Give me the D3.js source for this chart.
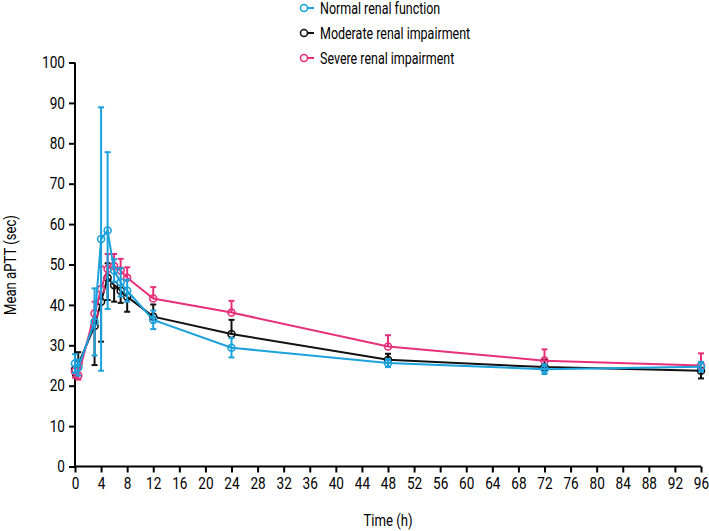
<!DOCTYPE html>
<html><head><meta charset="utf-8">
<script src="https://cdn.jsdelivr.net/npm/d3@7"></script>
<style>body{margin:0;background:#fff}svg{display:block}text{font-family:"Roboto","Liberation Sans",sans-serif}</style>
</head><body><svg id="c" width="709" height="531"></svg>
<script>
const times = [0,0.5,3,4,5,6,7,8,12,24,48,72,96];
const xTicks = d3.range(0,97,4);
const yTicks = d3.range(0,101,10);
const seriesNames = ["Normal renal function","Moderate renal impairment","Severe renal impairment"];
const colors = ["#1ba1dc","#111111","#e8307a"];
const normalMean = [25.5,24.5,35.8,56.3,58.4,48.5,45.6,43.5,36.3,29.4,25.6,24.1,24.7];
const normalUp   = [2.3,2,8.3,32.6,19.4,2.8,3.5,2.7,2.3,2.4,1,1.2,1.2];
const normalDown = [2.3,2,8.3,32.6,19.4,2.8,3.5,2.7,2.3,2.4,1,1.2,1.2];
const moderateMean = [24,25.3,34.8,40.8,46.7,44.9,43.5,42,37.1,32.8,26.4,24.6,23.7];
const moderateUp   = [0,3,0,0,3.6,0,0,0,3,3.5,1.5,1.8,0];
const moderateDown = [1.5,0,9.7,9.9,5.5,4.1,3,3.7,0,0,0,0,1.9];
const severeMean = [23.5,22.5,37.9,43.9,48.9,49.6,48.5,46.7,41.6,38.1,29.7,26.2,25];
const severeUp   = [0,0,2.9,5.6,3.7,3,2.9,2.6,2.8,2.9,2.8,2.8,3];
const severeDown = [1.5,1,0,0,0,0,0,0,0,0,0,0,0];

const series = [
  {name:seriesNames[0], color:colors[0], mean:normalMean, up:normalUp, down:normalDown},
  {name:seriesNames[1], color:colors[1], mean:moderateMean, up:moderateUp, down:moderateDown},
  {name:seriesNames[2], color:colors[2], mean:severeMean, up:severeUp, down:severeDown}
];

const svg = d3.select("#c");
const x = d3.scaleLinear().domain([0,96]).range([75,701]);
const y = d3.scaleLinear().domain([0,100]).range([466.5,62.5]);

const xAxis = svg.append("g").attr("transform","translate(0,466.5)")
  .call(d3.axisBottom(x).tickValues(xTicks).tickSize(6).tickPadding(5).tickSizeOuter(0));
const yAxis = svg.append("g").attr("transform","translate(75,0)")
  .call(d3.axisLeft(y).tickValues(yTicks).tickSize(6).tickPadding(4).tickSizeOuter(0));
[xAxis,yAxis].forEach(a=>{
  a.select(".domain").attr("stroke","#000").attr("stroke-width",2);
  a.selectAll(".tick line").attr("stroke","#000").attr("stroke-width",2);
  a.selectAll(".tick text").attr("fill","#000").style("font-size","16px").style("font-family","Roboto,sans-serif");
});
xAxis.selectAll(".tick text").each(function(){
  const t=d3.select(this); const yy=+t.attr("y");
  t.attr("transform",`translate(0,${yy}) scale(0.85,1)`).attr("y",0).attr("dy","0.71em");
});
yAxis.selectAll(".tick text").each(function(){
  const t=d3.select(this); const xx=+t.attr("x");
  t.attr("transform",`translate(${xx},0) scale(0.85,1)`).attr("x",0);
});
xAxis.select(".domain").attr("d",`M75,0H701`);
yAxis.select(".domain").attr("d",`M0,${y(0)}V${y(100)}`);

svg.append("text").attr("transform","translate(388,526) scale(0.82,1)").attr("text-anchor","middle")
  .style("font-size","16px").text("Time (h)");
svg.append("text").attr("transform","translate(16,265) rotate(-90) scale(0.82,1)").attr("text-anchor","middle")
  .style("font-size","16px").text("Mean aPTT (sec)");

const line = d3.line().x(d=>x(d.t)).y(d=>y(d.v));
const cap = 3;
[1,2,0].forEach(i=>{
  const s = series[i];
  const pts = times.map((t,k)=>({t, v:s.mean[k], up:s.up[k], down:s.down[k]}));
  const g = svg.append("g");
  pts.forEach(p=>{
    const hi = p.v + p.up, lo = p.v - p.down;
    if (p.up>0 || p.down>0) {
      g.append("line").attr("x1",x(p.t)).attr("x2",x(p.t)).attr("y1",y(hi)).attr("y2",y(lo))
        .attr("stroke",s.color).attr("stroke-width",2);
    }
    if (p.up>0) g.append("line").attr("x1",x(p.t)-cap).attr("x2",x(p.t)+cap).attr("y1",y(hi)).attr("y2",y(hi))
        .attr("stroke",s.color).attr("stroke-width",2);
    if (p.down>0) g.append("line").attr("x1",x(p.t)-cap).attr("x2",x(p.t)+cap).attr("y1",y(lo)).attr("y2",y(lo))
        .attr("stroke",s.color).attr("stroke-width",2);
  });
  g.append("path").datum(pts).attr("d",line).attr("fill","none").attr("stroke",s.color).attr("stroke-width",2);
  g.selectAll("circle").data(pts).join("circle").attr("cx",d=>x(d.t)).attr("cy",d=>y(d.v)).attr("r",3.5)
    .attr("fill","none").attr("stroke",s.color).attr("stroke-width",1.6);
});

const leg = svg.append("g");
series.forEach((s,i)=>{
  const yy = 8 + i*25;
  leg.append("line").attr("x1",300).attr("x2",314).attr("y1",yy).attr("y2",yy).attr("stroke",s.color).attr("stroke-width",2);
  leg.append("circle").attr("cx",304).attr("cy",yy).attr("r",3.5).attr("fill","#fff").attr("stroke",s.color).attr("stroke-width",1.6);
  leg.append("text").attr("transform",`translate(320,${yy}) scale(0.78,1)`).attr("dy","0.36em").style("font-size","16px").text(s.name);
});
</script></body></html>
